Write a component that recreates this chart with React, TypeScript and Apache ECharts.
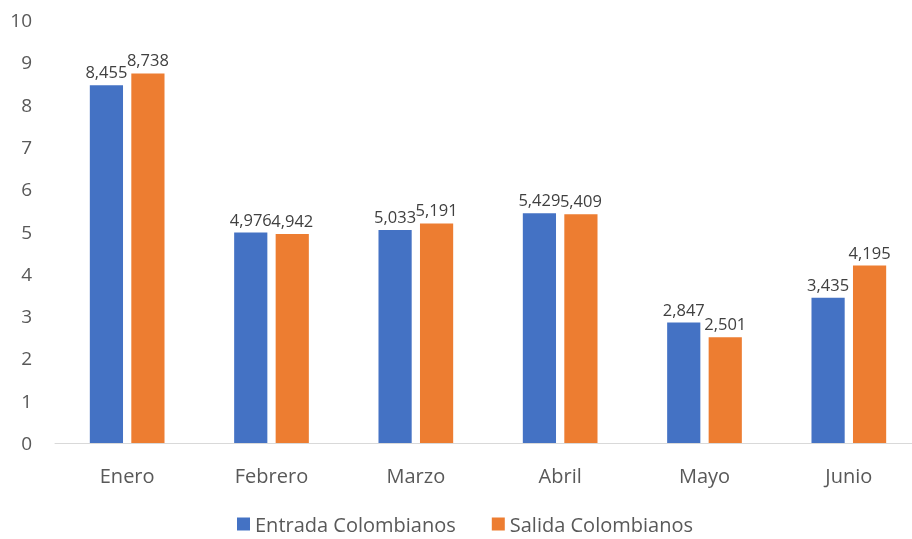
import React, { useEffect, useRef } from "react";
import * as echarts from "echarts";

const categories = ["Enero", "Febrero", "Marzo", "Abril", "Mayo", "Junio"];
const entrada = [8.455, 4.976, 5.033, 5.429, 2.847, 3.435];
const salida = [8.738, 4.942, 5.191, 5.409, 2.501, 4.195];
const seriesNames = ["Entrada Colombianos", "Salida Colombianos"];
const colors = ["#4472C4", "#ED7D31"];

const FONT = "Open Sans";

export default function App() {
  const ref = useRef<HTMLDivElement>(null);
  useEffect(() => {
    const chart = echarts.init(ref.current!, null, { renderer: "svg" });
    const fmt = (p: any) => Number(p.value).toFixed(3).replace(".", ",");
    const label = {
      show: true,
      position: "top",
      distance: 5,
      formatter: fmt,
      color: "#404040",
      fontFamily: FONT,
      fontSize: 16.5,
    };
    chart.setOption({
      animation: false,
      textStyle: { fontFamily: FONT },
      grid: { left: 55, top: 20, width: 866, height: 423, containLabel: false },
      legend: {
        bottom: 0,
        left: 232,
        itemWidth: 13,
        itemHeight: 13,
        itemGap: 36,
        icon: "rect",
        textStyle: { color: "#595959", fontSize: 20, fontFamily: FONT },
        data: seriesNames,
      },
      xAxis: {
        type: "category",
        data: categories,
        axisLine: { lineStyle: { color: "#D9D9D9", width: 1 } },
        axisTick: { show: false },
        axisLabel: { color: "#595959", fontSize: 20, margin: 22, fontFamily: FONT },
      },
      yAxis: {
        type: "value",
        min: 0,
        max: 10,
        interval: 1,
        splitLine: { show: false },
        axisLine: { show: false },
        axisTick: { show: false },
        axisLabel: { color: "#595959", fontSize: 19, margin: 23, fontFamily: FONT },
      },
      series: [
        {
          name: seriesNames[0],
          type: "bar",
          data: entrada,
          itemStyle: { color: colors[0] },
          barWidth: "23%",
          barGap: "25%",
          label,
        },
        {
          name: seriesNames[1],
          type: "bar",
          data: salida,
          itemStyle: { color: colors[1] },
          barWidth: "23%",
          barGap: "25%",
          label,
        },
      ],
    });
    return () => chart.dispose();
  }, []);
  return (
    <div style={{ position: "fixed", left: 0, top: 0, width: 912, height: 539, overflow: "hidden" }}>
      <div ref={ref} style={{ width: 925, height: 539 }} />
    </div>
  );
}
